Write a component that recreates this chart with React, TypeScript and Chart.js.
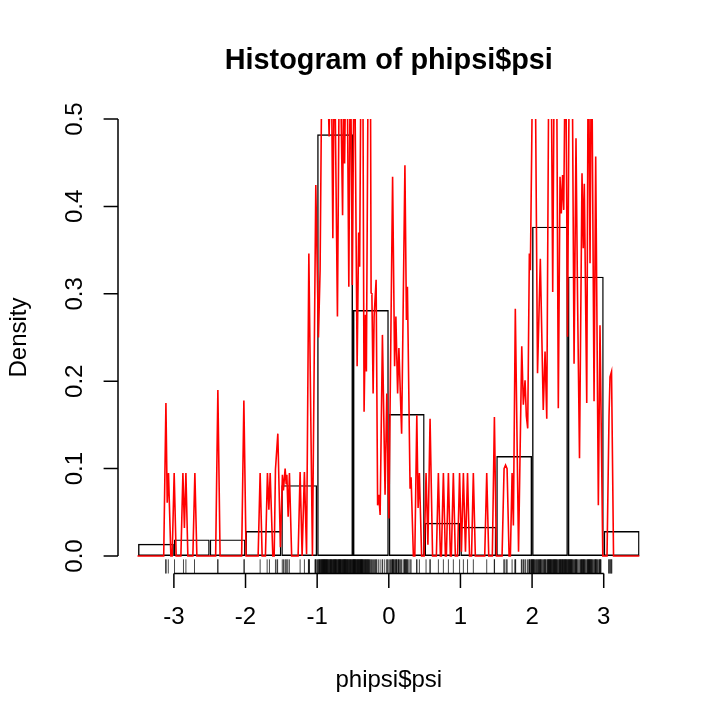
import React, { useEffect, useRef } from "react";
import { Chart, registerables } from "chart.js";

Chart.register(...registerables);

// Histogram (breaks every 0.5 from -3.5 to 3.5), density per bin
const binCenters = [-3.25, -2.75, -2.25, -1.75, -1.25, -0.75, -0.25, 0.25, 0.75, 1.25, 1.75, 2.25, 2.75, 3.25];
const binDensity = [0.014, 0.019, 0.019, 0.0286, 0.081, 0.4825, 0.2815, 0.1625, 0.038, 0.0335, 0.1144, 0.3768, 0.3196, 0.0286];

// Kernel density curve (vertices)
const densX = [
  -3.508, -3.142, -3.111, -3.093, -3.075, -3.042, -3.024, -2.996, -2.968, -2.902, -2.874, -2.853, -2.832, -2.805,
  -2.735, -2.707, -2.679, -2.417, -2.386, -2.355, -2.054, -2.023, -1.992, -1.824, -1.796, -1.768, -1.722, -1.694,
  -1.674, -1.656, -1.619, -1.600, -1.582, -1.549, -1.513, -1.485, -1.471, -1.447, -1.433, -1.423, -1.405, -1.387,
  -1.356, -1.266, -1.238, -1.210, -1.206, -1.178, -1.148, -1.116, -1.066, -1.019, -0.982, -0.959, -0.931, -0.874,
  -0.833, -0.805, -0.781, -0.759, -0.717, -0.686, -0.645, -0.631, -0.617, -0.589, -0.558, -0.536, -0.509, -0.481,
  -0.442, -0.421, -0.407, -0.386, -0.363, -0.345, -0.326, -0.313, -0.286, -0.258, -0.247, -0.236, -0.219, -0.205,
  -0.177, -0.156, -0.140, -0.121, -0.089, -0.052, -0.028, 0.001, 0.053, 0.081, 0.099, 0.123, 0.141, 0.179,
  0.225, 0.246, 0.260, 0.297, 0.311, 0.343, 0.363, 0.391, 0.409, 0.427, 0.458, 0.493, 0.520, 0.546,
  0.576, 0.611, 0.664, 0.692, 0.720, 0.734, 0.762, 0.790, 0.804, 0.832, 0.859, 0.873, 0.901, 0.929,
  0.960, 0.988, 1.014, 1.041, 1.070, 1.099, 1.127, 1.155, 1.180, 1.208, 1.339, 1.367, 1.395, 1.445,
  1.474, 1.502, 1.581, 1.609, 1.630, 1.651, 1.679, 1.697, 1.721, 1.739, 1.766, 1.811, 1.856, 1.878,
  1.902, 1.920, 1.939, 1.962, 1.976, 1.995, 2.013, 2.041, 2.076, 2.115, 2.156, 2.181, 2.205, 2.237,
  2.265, 2.288, 2.313, 2.341, 2.366, 2.390, 2.408, 2.426, 2.442, 2.467, 2.495, 2.523, 2.558, 2.586,
  2.613, 2.634, 2.662, 2.697, 2.715, 2.729, 2.763, 2.785, 2.809, 2.830, 2.865, 2.888, 2.925, 2.948,
  2.987, 3.046, 3.074, 3.088, 3.109, 3.137, 3.497,
];
const densY = [
  0, 0, 0.175, 0.061, 0.095, 0, 0, 0.095, 0, 0, 0.095, 0.032, 0.095, 0,
  0, 0.095, 0, 0, 0.19, 0, 0, 0.178, 0, 0, 0.095, 0, 0, 0.095,
  0.053, 0.095, 0, 0, 0.099, 0.14, 0.01, 0.093, 0.075, 0.1, 0.083, 0.093, 0.045, 0.095,
  0, 0, 0.096, 0, 0, 0.096, 0.002, 0.346, 0, 0.4245, 0.25, 0.327, 0.6, 0.62,
  0.48, 0.6, 0.3635, 0.6, 0.274, 0.62, 0.39, 0.55, 0.449, 0.65, 0.308, 0.6, 0.31, 0.62,
  0.217, 0.37, 0.331, 0.6, 0.58, 0.165, 0.276, 0.211, 0.6, 0.6, 0.301, 0.3, 0.186, 0.274,
  0.316, 0.058, 0.07, 0.047, 0.253, 0.07, 0.186, 0.043, 0.434, 0.217, 0.274, 0.186, 0.238, 0.14,
  0.447, 0.27, 0.308, 0.077, 0.09, 0, 0, 0.161, 0.055, 0.095, 0, 0, 0.095, 0.013,
  0.157, 0, 0, 0.095, 0, 0, 0.095, 0, 0, 0.095, 0, 0, 0.095, 0,
  0, 0.095, 0.005, 0.095, 0.005, 0.095, 0, 0, 0.095, 0, 0, 0.095, 0, 0,
  0.159, 0, 0, 0.1, 0.104, 0.1, 0, 0, 0.095, 0.035, 0.283, 0.005, 0.24, 0.173,
  0.201, 0.16, 0.146, 0.346, 0.327, 0.468, 0.62, 0.6, 0.209, 0.34, 0.167, 0.234, 0.157, 0.62,
  0.6, 0.302, 0.62, 0.6, 0.169, 0.434, 0.392, 0.436, 0.396, 0.62, 0.251, 0.62, 0.6, 0.22,
  0.478, 0.3, 0.112, 0.438, 0.352, 0.426, 0.175, 0.62, 0.335, 0.62, 0.177, 0.457, 0.058, 0.264,
  0, 0, 0.16, 0.205, 0.211, 0, 0,
];

// Rug: observed psi values
const rugValues = [
  -3.115, -3.108, -3.078, -2.991, -2.866, -2.832, -2.712, -2.388, -2.385, -2.021, -2.018, -1.796, -1.698, -1.666,
  -1.582, -1.561, -1.552, -1.487, -1.470, -1.449, -1.437, -1.423, -1.409, -1.388, -1.238, -1.178, -1.122, -1.117,
  -1.113, -1.108, -1.030, -1.024, -1.019, -1.013,
  -0.995, -0.987, -0.979, -0.972, -0.967, -0.961, -0.956, -0.949, -0.944, -0.938, -0.933, -0.929, -0.925, -0.919,
  -0.914, -0.911, -0.906, -0.901, -0.897, -0.893, -0.889, -0.884, -0.879, -0.875, -0.871, -0.866, -0.862, -0.857,
  -0.852, -0.846, -0.840, -0.833, -0.826, -0.821, -0.816, -0.812, -0.807, -0.803, -0.798, -0.793, -0.786, -0.779,
  -0.773, -0.768, -0.763, -0.759, -0.754, -0.749, -0.745, -0.741, -0.736, -0.731, -0.725, -0.718, -0.711, -0.705,
  -0.700, -0.696, -0.691, -0.687, -0.683, -0.679, -0.674, -0.669, -0.664, -0.658, -0.651, -0.645, -0.640, -0.634,
  -0.629, -0.625, -0.620, -0.616, -0.612, -0.607, -0.603, -0.598, -0.593, -0.588, -0.582, -0.576, -0.571, -0.566,
  -0.560, -0.553, -0.547, -0.542, -0.537, -0.532, -0.527, -0.521, -0.514, -0.507, -0.502,
  -0.497, -0.493, -0.489, -0.485, -0.481, -0.477, -0.473, -0.469, -0.464, -0.459, -0.453, -0.447, -0.442, -0.437,
  -0.431, -0.426, -0.421, -0.416, -0.411, -0.406, -0.401, -0.396, -0.392, -0.388, -0.384, -0.380, -0.376, -0.372,
  -0.367, -0.362, -0.356, -0.350, -0.343, -0.337, -0.331, -0.326, -0.320, -0.314, -0.308, -0.302, -0.296, -0.290,
  -0.284, -0.278, -0.270, -0.262, -0.252, -0.241, -0.228, -0.214, -0.200, -0.185, -0.176, -0.168, -0.146, -0.121,
  -0.093, -0.085, -0.057, -0.030, -0.020, -0.008,
  0.012, 0.025, 0.035, 0.045, 0.052, 0.056, 0.061, 0.068, 0.075, 0.086, 0.095, 0.103, 0.108, 0.115,
  0.128, 0.135, 0.140, 0.152, 0.165, 0.178, 0.200, 0.215, 0.222, 0.226, 0.231, 0.240, 0.248, 0.256,
  0.263, 0.280, 0.298, 0.311, 0.388, 0.393, 0.427,
  0.520, 0.574, 0.579, 0.692, 0.762, 0.832, 0.901, 0.988, 1.041, 1.099, 1.180, 1.367, 1.472, 1.476,
  1.605, 1.618, 1.640, 1.652, 1.721, 1.760, 1.766, 1.771, 1.850, 1.857, 1.875, 1.883, 1.901, 1.912,
  1.937, 1.955, 1.961, 1.966, 1.971, 1.983, 1.989, 1.994, 1.998,
  2.004, 2.009, 2.013, 2.018, 2.023, 2.029, 2.036, 2.047, 2.058, 2.066, 2.072, 2.081, 2.090, 2.097,
  2.104, 2.111, 2.116, 2.121, 2.128, 2.137, 2.148, 2.160, 2.170, 2.176, 2.181, 2.186, 2.195, 2.208,
  2.216, 2.222, 2.227, 2.232, 2.237, 2.242, 2.247, 2.252, 2.257, 2.262, 2.268, 2.274, 2.280, 2.287,
  2.294, 2.300, 2.305, 2.310, 2.315, 2.320, 2.325, 2.330, 2.335, 2.341, 2.347, 2.355, 2.366, 2.374,
  2.381, 2.386, 2.391, 2.396, 2.401, 2.407, 2.413, 2.419, 2.424, 2.429, 2.434, 2.440, 2.447, 2.453,
  2.458, 2.463, 2.468, 2.473, 2.478, 2.484, 2.490, 2.497,
  2.503, 2.509, 2.515, 2.520, 2.525, 2.530, 2.535, 2.540, 2.545, 2.550, 2.556, 2.562, 2.569, 2.578,
  2.592, 2.601, 2.607, 2.612, 2.617, 2.622, 2.629, 2.640, 2.654, 2.667, 2.676, 2.684, 2.690, 2.695,
  2.700, 2.706, 2.712, 2.718, 2.723, 2.728, 2.734, 2.742, 2.752, 2.764, 2.772, 2.777, 2.782, 2.787,
  2.792, 2.797, 2.802, 2.807, 2.812, 2.818, 2.823, 2.829, 2.836, 2.844, 2.855, 2.866, 2.875, 2.881,
  2.886, 2.891, 2.896, 2.903, 2.913, 2.926, 2.941, 2.946, 2.950, 2.954, 2.962,
  3.068, 3.078, 3.088, 3.098, 3.106, 3.113,
];

const xTicks = [-3, -2, -1, 0, 1, 2, 3];
const xTickLabels = ["-3", "-2", "-1", "0", "1", "2", "3"];
const yTicks = [0, 0.1, 0.2, 0.3, 0.4, 0.5];
const yTickLabels = ["0.0", "0.1", "0.2", "0.3", "0.4", "0.5"];

const titleText = "Histogram of phipsi$psi";
const xLabel = "phipsi$psi";
const yLabel = "Density";

const FONT = '"Liberation Sans", Arial, Helvetica, sans-serif';

const rStylePlugin = {
  id: "rStyle",
  afterDatasetsDraw(chart: any) {
    const { ctx, scales, chartArea } = chart;
    const x = scales.x;
    const y = scales.y;
    // rug
    const bottom = chartArea.bottom;
    const top = y.getPixelForValue(-0.02 + 0.54 * 0.03);
    ctx.save();
    ctx.strokeStyle = "rgba(0,0,0,0.72)";
    ctx.lineWidth = 1;
    for (const v of rugValues) {
      const px = x.getPixelForValue(v);
      ctx.beginPath();
      ctx.moveTo(px, bottom);
      ctx.lineTo(px, top);
      ctx.stroke();
    }
    ctx.restore();
  },
  afterDraw(chart: any) {
    const { ctx, scales, chartArea } = chart;
    const x = scales.x;
    const y = scales.y;
    const tick = 14.4;
    ctx.save();
    ctx.strokeStyle = "#000";
    ctx.fillStyle = "#000";
    ctx.lineWidth = 1.5;
    ctx.lineCap = "butt";

    // x axis
    const yb = chartArea.bottom;
    ctx.beginPath();
    ctx.moveTo(x.getPixelForValue(xTicks[0]), yb);
    ctx.lineTo(x.getPixelForValue(xTicks[xTicks.length - 1]), yb);
    for (const t of xTicks) {
      const px = x.getPixelForValue(t);
      ctx.moveTo(px, yb);
      ctx.lineTo(px, yb + tick);
    }
    ctx.stroke();
    ctx.font = `24px ${FONT}`;
    ctx.textAlign = "center";
    ctx.textBaseline = "middle";
    xTicks.forEach((t, i) => {
      ctx.fillText(xTickLabels[i], x.getPixelForValue(t), yb + 44);
    });

    // y axis
    const xl = chartArea.left;
    ctx.beginPath();
    ctx.moveTo(xl, y.getPixelForValue(yTicks[0]));
    ctx.lineTo(xl, y.getPixelForValue(yTicks[yTicks.length - 1]));
    for (const t of yTicks) {
      const py = y.getPixelForValue(t);
      ctx.moveTo(xl, py);
      ctx.lineTo(xl - tick, py);
    }
    ctx.stroke();
    yTicks.forEach((t, i) => {
      ctx.save();
      ctx.translate(xl - 43, y.getPixelForValue(t));
      ctx.rotate(-Math.PI / 2);
      ctx.fillText(yTickLabels[i], 0, 0);
      ctx.restore();
    });

    // axis titles
    const cx = (chartArea.left + chartArea.right) / 2;
    ctx.fillText(xLabel, cx, 680);
    ctx.save();
    ctx.translate(19, (y.getPixelForValue(-0.02) + y.getPixelForValue(0.52)) / 2);
    ctx.rotate(-Math.PI / 2);
    ctx.fillText(yLabel, 0, 0);
    ctx.restore();

    // main title
    ctx.font = `bold 28.8px ${FONT}`;
    ctx.fillText(titleText, cx, 61);
    ctx.restore();
  },
};

export default function App() {
  const canvasRef = useRef<HTMLCanvasElement | null>(null);

  useEffect(() => {
    document.body.style.margin = "0";
    const canvas = canvasRef.current;
    if (!canvas) return;
    const chart = new Chart(canvas, {
      type: "bar",
      data: {
        datasets: [
          {
            type: "line",
            label: "density",
            data: densX.map((v, i) => ({ x: v, y: densY[i] })),
            borderColor: "#ff0000",
            borderWidth: 1.6,
            pointRadius: 0,
            tension: 0,
            fill: false,
            clip: 0,
            order: 0,
          } as any,
          {
            type: "bar",
            label: "histogram",
            data: binCenters.map((c, i) => ({ x: c, y: binDensity[i] })),
            backgroundColor: "rgba(0,0,0,0)",
            borderColor: "#000000",
            borderWidth: 1.4,
            borderSkipped: false,
            inflateAmount: 0,
            barPercentage: 1,
            categoryPercentage: 1,
            order: 1,
          } as any,
        ],
      },
      options: {
        animation: false,
        responsive: false,
        devicePixelRatio: 1,
        events: [],
        layout: { padding: { left: 118, right: 60.4, top: 119, bottom: 146.5 } },
        plugins: {
          legend: { display: false },
          tooltip: { enabled: false },
          title: { display: false },
        },
        scales: {
          x: {
            type: "linear",
            min: -3.78,
            max: 3.78,
            offset: false,
            display: false,
            ticks: { stepSize: 1, includeBounds: false },
          },
          y: {
            type: "linear",
            min: -0.02,
            max: 0.5,
            display: false,
          },
        },
      } as any,
      plugins: [rStylePlugin],
    });
    return () => chart.destroy();
  }, []);

  return <canvas ref={canvasRef} width={720} height={720} style={{ display: "block" }} />;
}
